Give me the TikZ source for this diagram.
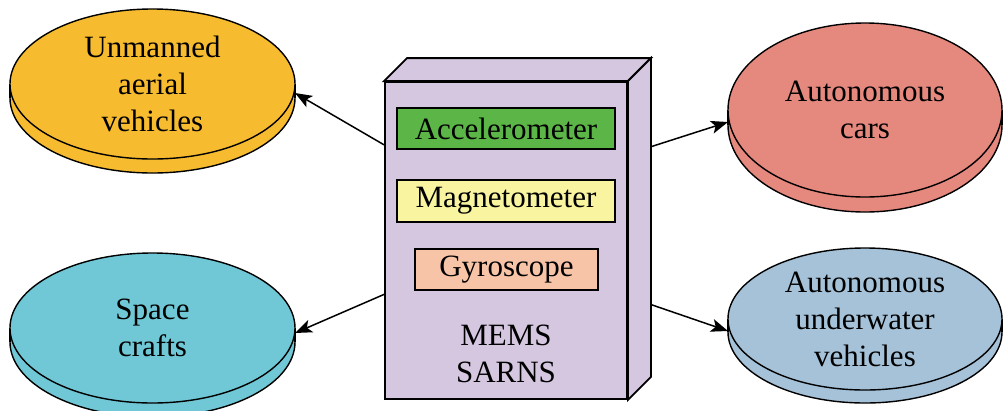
\documentclass[tikz,border=0pt]{standalone}
\usepackage{fontspec}
\setmainfont{Liberation Serif}
\usetikzlibrary{shapes.geometric,arrows.meta,calc}

\definecolor{uavfill}{RGB}{247,187,47}
\definecolor{carfill}{RGB}{229,136,126}
\definecolor{spacefill}{RGB}{112,200,214}
\definecolor{auvfill}{RGB}{165,194,216}
\definecolor{boxfill}{RGB}{214,199,225}
\definecolor{accfill}{RGB}{92,181,71}
\definecolor{magfill}{RGB}{248,244,160}
\definecolor{gyrofill}{RGB}{248,196,168}

\tikzset{
  edge/.style={draw=black, line width=1.4bp},
  discface/.style={ellipse, edge, inner sep=0pt, outer sep=0pt},
  disctext/.style={align=center, inner sep=0pt},
  boxline/.style={draw=black, line width=1.8bp, line join=miter},
  sensor/.style={draw=black, line width=1.6bp, inner sep=0pt, minimum height=41bp},
  link/.style={draw=black, line width=1.5bp, -{Stealth[length=17bp,width=13bp,inset=4bp]}},
  every node/.style={font=\fontsize{31bp}{37bp}\selectfont}
}

% A flat disc: #1 name, #2 cx, #3 cy, #4 rx, #5 ry, #6 thickness, #7 fill, #8 text
\newcommand\puck[8]{%
  \node[discface, fill=#7, minimum width={2*#4 bp}, minimum height={2*#5 bp}] (#1base) at (#2,#3+#6) {};
  \fill[#7] (#2-#4,#3) rectangle (#2+#4,#3+#6);
  \draw[edge] (#2-#4,#3) -- (#2-#4,#3+#6) (#2+#4,#3) -- (#2+#4,#3+#6);
  \node[discface, fill=#7, minimum width={2*#4 bp}, minimum height={2*#5 bp}] (#1) at (#2,#3) {};
  \node[disctext] (#1text) at (#2,#3) {#8};
}

\begin{document}
\begin{tikzpicture}[x=1bp,y=-1bp]
\useasboundingbox (0,0) rectangle (1004,410);

% application discs
\puck{uav}{152.5}{84}{142.5}{75}{14}{uavfill}{Unmanned\\aerial\\vehicles}
\puck{car}{865}{110}{137}{87}{15}{carfill}{Autonomous\\cars}
\puck{space}{152.5}{328}{142.5}{75}{14}{spacefill}{Space\\crafts}
\puck{auv}{865}{319}{137}{71}{13}{auvfill}{Autonomous\\underwater\\vehicles}

% the MEMS unit drawn as a box
\node[boxline, fill=boxfill, minimum width=242bp, minimum height=317bp, inner sep=0pt] (mems) at (506,240.5) {};
\coordinate (bk1) at ($(mems.north east)+(23,-23)$);
\coordinate (bk2) at ($(mems.south east)+(23,-23)$);
\coordinate (bk0) at ($(mems.north west)+(23,-23)$);
\draw[boxline, fill=boxfill] (mems.north west) -- (bk0) -- (bk1) -- (mems.north east) -- cycle;
\draw[boxline, fill=boxfill] (mems.north east) -- (bk1) -- (bk2) -- (mems.south east) -- cycle;

% sensors inside the unit
\node[sensor, fill=accfill, minimum width=218bp] (acc) at (506,128.5) {Accelerometer};
\node[sensor, fill=magfill, minimum width=218bp, minimum height=42bp] (mag) at (506,201) {Magnetometer};
\node[sensor, fill=gyrofill, minimum width=183bp] (gyro) at (506.5,269.5) {Gyroscope};
\node[disctext] (memstext) at (506,354) {MEMS\\SARNS};

% connectors
\coordinate (lo1) at ($(mems.north west)!0.2!(mems.south west)$);
\coordinate (lo2) at ($(mems.north west)!0.669!(mems.south west)$);
\coordinate (ro1) at ($(bk1)!0.278!(bk2)$);
\coordinate (ro2) at ($(bk1)!0.773!(bk2)$);
\draw[link] (lo1) -- ([yshift=-9bp]uav.east);
\draw[link] (ro1) -- ([yshift=-12bp]car.west);
\draw[link] (lo2) -- ([yshift=-5bp]space.east);
\draw[link] (ro2) -- ([yshift=-12bp]auv.west);
\end{tikzpicture}
\end{document}
